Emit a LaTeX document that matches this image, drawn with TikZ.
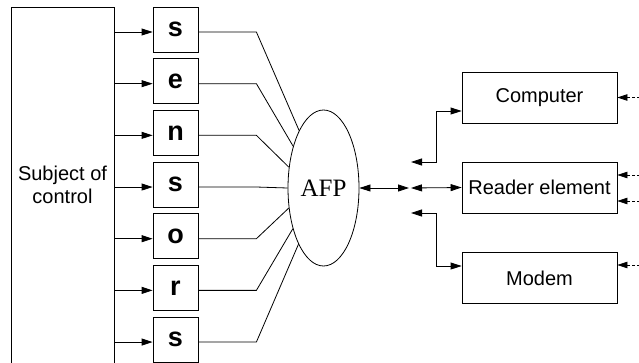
\documentclass[tikz,border=0pt]{standalone}
\usepackage{fontspec}
\setmainfont{Liberation Sans}
\newfontfamily\afpfont{Liberation Serif}
\usetikzlibrary{shapes.geometric,arrows.meta}
\begin{document}
\begin{tikzpicture}[x=1pt,y=-1pt,
  every node/.style={font=\fontsize{20}{23.5}\selectfont},
  ln/.style={line width=0.8pt},
  box/.style={draw, ln, inner sep=0pt},
  sens/.style={box, minimum width=45pt, minimum height=45pt, font=\fontsize{27}{28}\selectfont\bfseries},
  rbox/.style={box, minimum width=155pt, minimum height=51pt},
  tip/.style={-{Triangle[length=11pt,width=7pt]}},
  dtip/.style={{Triangle[length=11pt,width=7pt]}-{Triangle[length=11pt,width=7pt]}},
  dashin/.style={ln, dash pattern=on 3pt off 2pt, -{Triangle[length=10pt,width=6.5pt]}}
]
\useasboundingbox (0,0) rectangle (639,362);
\clip (0,0) rectangle (639,362);

% subject of control
\node[box, minimum width=103pt, minimum height=356pt, align=center] (subj) at (62.5,185) {Subject of\\control};

% sensors
\foreach \ch [count=\i from 0] in {s,e,n,s,o,r,s} {
  \node[sens] (s\i) at (175.5,{29.5+51.67*\i}) {\ch};
  \coordinate (a\i) at ([yshift=-2.5pt]s\i.west);
  \coordinate (b\i) at ([yshift=-2.5pt]s\i.east);
  \draw[ln,tip] (subj.east |- a\i) -- (a\i);
}

% AFP
\node[draw, ln, ellipse, minimum width=71pt, minimum height=156pt, inner sep=0pt,
      font=\afpfont\fontsize{25}{25}\selectfont] (afp) at (323.5,188) {AFP};

\foreach \i/\ang in {0/113.3, 1/126.4, 2/149.8, 3/180, 4/210.2, 5/233.6, 6/246.7}
  \draw[ln] (b\i) -- ++(58,0) -- (afp.\ang);

% right boxes
\node[rbox] (comp) at (539.5,97.5) {Computer};
\node[rbox] (reader) at (539.5,187.5) {Reader element};
\node[rbox] (modem) at (539.5,278) {Modem};

\coordinate (h1) at (409,188);
\coordinate (h2) at (411,188);
\coordinate (hc) at (411,162);
\coordinate (hm) at (411,213);
\draw[ln,dtip] (afp.east) -- (h1);
\draw[ln,dtip] (h2) -- (reader.west);
\draw[ln,dtip] (hc) -- ++(25,0) |- ([yshift=-13.5pt]comp.west);
\draw[ln,dtip] (hm) -- ++(25,0) |- ([yshift=12pt]modem.west);

% dashed inputs
\coordinate (dc) at (645,97.5);
\coordinate (dr1) at (645,175);
\coordinate (dr2) at (645,201);
\coordinate (dm) at (645,265);
\draw[dashin] (dc) -- (comp.east |- dc);
\draw[dashin] (dr1) -- (reader.east |- dr1);
\draw[dashin] (dr2) -- (reader.east |- dr2);
\draw[dashin] (dm) -- (modem.east |- dm);
\end{tikzpicture}
\end{document}
